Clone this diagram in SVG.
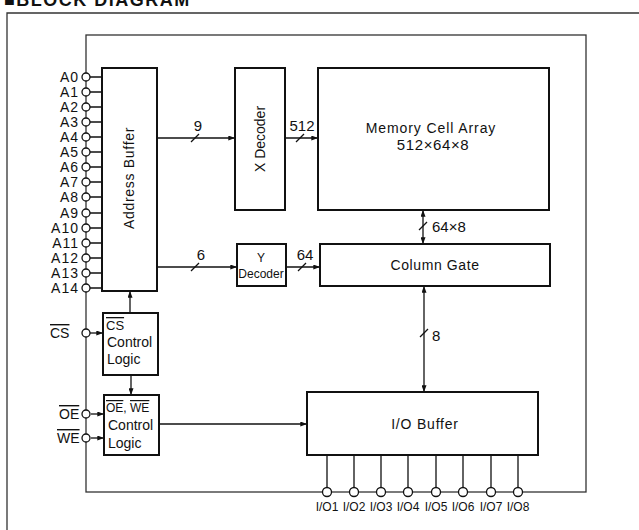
<svg xmlns="http://www.w3.org/2000/svg" width="639" height="530" viewBox="0 0 639 530">
<style>
  text { font-family: "Liberation Sans", Arial, sans-serif; fill: #111; }
  .box { fill: #fff; stroke: #111; stroke-width: 2; }
  .frame { fill: none; stroke: #333; stroke-width: 1.3; }
  .wire { fill: none; stroke: #111; stroke-width: 1.3; }
  .pin { fill: #fff; stroke: #111; stroke-width: 1.3; }
  .lbl { font-size: 14px; }
  .mid { text-anchor: middle; }
  .end { text-anchor: end; }
  .ov { text-decoration: overline; }
</style>
<defs>
  <marker id="ah" viewBox="0 0 8 6" refX="8" refY="3" markerWidth="7" markerHeight="5" markerUnits="userSpaceOnUse" orient="auto-start-reverse">
    <path d="M0,0 L8,3 L0,6 Z" fill="#111"/>
  </marker>
</defs>
<rect width="639" height="530" fill="#fff"/>
<text x="4" y="6" style="font-size:18px;font-weight:bold;letter-spacing:1.5px">■BLOCK DIAGRAM</text>
<path class="frame" d="M7,530 V13 H639"/>
<rect class="frame" x="86" y="35" width="500" height="457"/>

<g id="connectors">
  <path class="wire" d="M89,77 H102 M89,92 H102 M89,107 H102 M89,122 H102 M89,137 H102 M89,152 H102 M89,167 H102 M89,182 H102 M89,197 H102 M89,213 H102 M89,228 H102 M89,243 H102 M89,258 H102 M89,273 H102 M89,288 H102"/>
  <path class="wire" d="M157,138 H235" marker-end="url(#ah)"/>
  <path class="wire" d="M191,142 L199,134"/>
  <path class="wire" d="M157,267 H237" marker-end="url(#ah)"/>
  <path class="wire" d="M191,271 L199,263"/>
  <path class="wire" d="M285,138 H318" marker-end="url(#ah)"/>
  <path class="wire" d="M296,142 L304,134"/>
  <path class="wire" d="M286,267 H320" marker-end="url(#ah)"/>
  <path class="wire" d="M298,271 L306,263"/>
  <path class="wire" d="M423,210 V244" marker-start="url(#ah)" marker-end="url(#ah)"/>
  <path class="wire" d="M419,230 L427,222"/>
  <path class="wire" d="M424,286 V392" marker-start="url(#ah)" marker-end="url(#ah)"/>
  <path class="wire" d="M420,337 L428,329"/>
  <path class="wire" d="M90,333 H103" marker-end="url(#ah)"/>
  <path class="wire" d="M91,414 H104" marker-end="url(#ah)"/>
  <path class="wire" d="M91,438 H104" marker-end="url(#ah)"/>
  <path class="wire" d="M130,313 V291" marker-end="url(#ah)"/>
  <path class="wire" d="M131,375 V395" marker-end="url(#ah)"/>
  <path class="wire" d="M159,424 H307" marker-end="url(#ah)"/>
  <path class="wire" d="M327,455 V489 M354,455 V489 M381,455 V489 M408,455 V489 M436,455 V489 M463,455 V489 M491,455 V489 M518,455 V489"/>
  <text class="lbl mid" x="198" y="131" style="font-size:15px">9</text>
  <text class="lbl mid" x="201" y="260" style="font-size:15px">6</text>
  <text class="lbl mid" x="302" y="131" style="font-size:15px">512</text>
  <text class="lbl mid" x="305" y="260" style="font-size:15px">64</text>
  <text class="lbl" x="432" y="232" style="font-size:15px">64×8</text>
  <text class="lbl" x="432" y="341" style="font-size:15px">8</text>
</g>

<g id="address-pins">
  <g class="end" style="font-size:14px;letter-spacing:1px">
    <text x="79" y="82">A0</text>
    <text x="79" y="97">A1</text>
    <text x="79" y="112">A2</text>
    <text x="79" y="127">A3</text>
    <text x="79" y="142">A4</text>
    <text x="79" y="157">A5</text>
    <text x="79" y="172">A6</text>
    <text x="79" y="187">A7</text>
    <text x="79" y="202">A8</text>
    <text x="79" y="218">A9</text>
    <text x="79" y="233">A10</text>
    <text x="79" y="248">A11</text>
    <text x="79" y="263">A12</text>
    <text x="79" y="278">A13</text>
    <text x="79" y="293">A14</text>
  </g>
  <g class="pin">
    <circle cx="86" cy="77" r="4"/><circle cx="86" cy="92" r="4"/><circle cx="86" cy="107" r="4"/>
    <circle cx="86" cy="122" r="4"/><circle cx="86" cy="137" r="4"/><circle cx="86" cy="152" r="4"/>
    <circle cx="86" cy="167" r="4"/><circle cx="86" cy="182" r="4"/><circle cx="86" cy="197" r="4"/>
    <circle cx="86" cy="213" r="4"/><circle cx="86" cy="228" r="4"/><circle cx="86" cy="243" r="4"/>
    <circle cx="86" cy="258" r="4"/><circle cx="86" cy="273" r="4"/><circle cx="86" cy="288" r="4"/>
  </g>
</g>

<g id="control-pins">
  <text class="ov" x="50" y="338" style="font-size:14px">CS</text>
  <text class="ov" x="59" y="419" style="font-size:14px">OE</text>
  <text class="ov" x="57" y="443" style="font-size:14px">WE</text>
  <circle class="pin" cx="86" cy="333" r="4"/>
  <circle class="pin" cx="86" cy="414" r="4"/>
  <circle class="pin" cx="86" cy="438" r="4"/>
</g>

<g id="address-buffer">
  <rect class="box" x="102" y="68" width="55" height="223"/>
  <text class="mid" transform="translate(134,178) rotate(-90)" style="font-size:14px;letter-spacing:0.7px">Address Buffer</text>
</g>

<g id="x-decoder">
  <rect class="box" x="235" y="68" width="50" height="142"/>
  <text class="mid" transform="translate(265,139) rotate(-90)" style="font-size:14px">X Decoder</text>
</g>

<g id="y-decoder">
  <rect class="box" x="237" y="244" width="49" height="42"/>
  <text class="mid" x="261" y="262" style="font-size:12px">Y</text>
  <text class="mid" x="261" y="278" style="font-size:12px">Decoder</text>
</g>

<g id="memory-cell-array">
  <rect class="box" x="318" y="68" width="231" height="142"/>
  <text class="mid" x="431" y="133" style="font-size:14px;letter-spacing:0.9px">Memory Cell Array</text>
  <text class="mid" x="433" y="150" style="font-size:15px;letter-spacing:0.6px">512×64×8</text>
</g>

<g id="column-gate">
  <rect class="box" x="320" y="244" width="230" height="42"/>
  <text class="mid" x="435" y="270" style="font-size:14px;letter-spacing:0.6px">Column Gate</text>
</g>

<g id="io-buffer">
  <rect class="box" x="307" y="392" width="231" height="63"/>
  <text class="mid" x="425" y="429" style="font-size:14px;letter-spacing:0.8px">I/O Buffer</text>
</g>

<g id="cs-control-logic">
  <rect class="box" x="103" y="313" width="55" height="62"/>
  <text class="ov" x="106" y="330" style="font-size:13px">CS</text>
  <text x="107" y="347" style="font-size:14px">Control</text>
  <text x="107" y="364" style="font-size:14px">Logic</text>
</g>

<g id="oe-we-control-logic">
  <rect class="box" x="104" y="395" width="55" height="60"/>
  <text x="106" y="412" style="font-size:12px"><tspan class="ov">OE</tspan>, <tspan class="ov">WE</tspan></text>
  <text x="108" y="430" style="font-size:14px">Control</text>
  <text x="108" y="448" style="font-size:14px">Logic</text>
</g>

<g id="io-pins">
  <g class="pin">
    <circle cx="327" cy="492" r="4.5"/><circle cx="354" cy="492" r="4.5"/><circle cx="381" cy="492" r="4.5"/>
    <circle cx="408" cy="492" r="4.5"/><circle cx="436" cy="492" r="4.5"/><circle cx="463" cy="492" r="4.5"/>
    <circle cx="491" cy="492" r="4.5"/><circle cx="518" cy="492" r="4.5"/>
  </g>
  <g style="font-size:12px" class="mid">
    <text x="327" y="511">I/O1</text><text x="354" y="511">I/O2</text><text x="381" y="511">I/O3</text>
    <text x="408" y="511">I/O4</text><text x="436" y="511">I/O5</text><text x="463" y="511">I/O6</text>
    <text x="491" y="511">I/O7</text><text x="518" y="511">I/O8</text>
  </g>
</g>
</svg>
